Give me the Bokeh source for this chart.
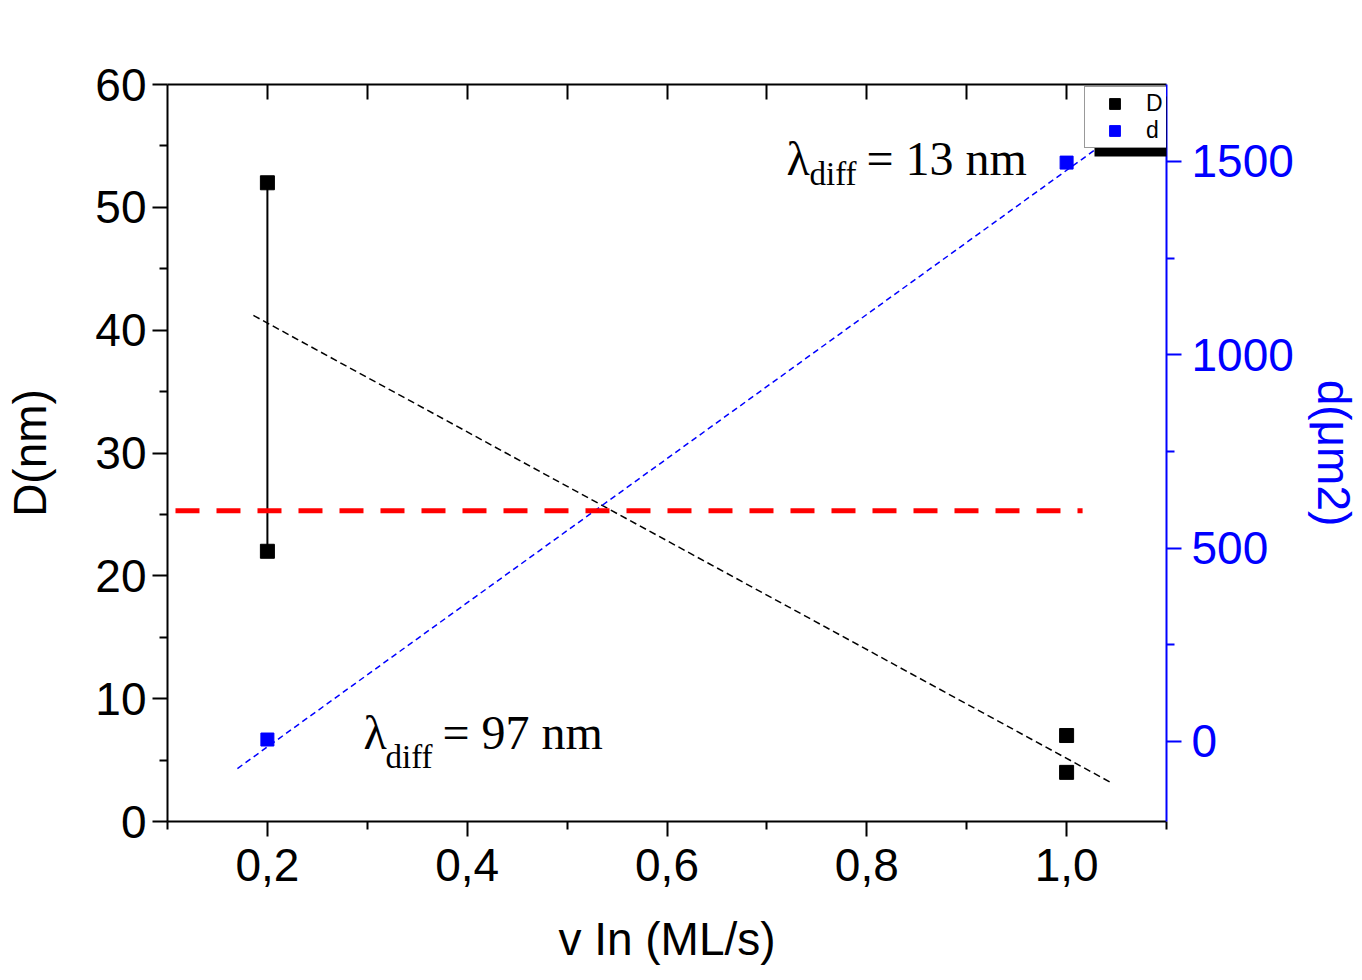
from bokeh.plotting import figure
from bokeh.models import (Range1d, LinearAxis, FixedTicker, CustomJSTickFormatter, Label,
                          Legend, LegendItem, BoxAnnotation)
from bokeh.embed import file_html
from bokeh.resources import INLINE

# ---------------- data ----------------
v_in = [0.2, 0.2, 1.0, 1.0]            # ML/s
D_nm = [52, 22, 7, 4]                  # D (nm)
d_x = [0.2, 1.0]
d_um2 = [5, 1497]                      # d
D_span_x = [0.2]
D_span_low = [22]
D_span_high = [52]
D_fit_x = [0.186, 1.046]
D_fit_y = [41.2, 3.1]
d_fit_x = [0.17, 1.03]
d_fit_y = [-70, 1533]
ref_x = [0.108, 1.016]
ref_D = [25.3, 25.3]

x_ticks = [0.2, 0.4, 0.6, 0.8, 1.0]
x_minor = [0.1, 0.3, 0.5, 0.7, 0.9, 1.1]
top_ticks = [0.2, 0.3, 0.4, 0.5, 0.6, 0.7, 0.8, 0.9, 1.0]
D_ticks = [0, 10, 20, 30, 40, 50, 60]
D_minor = [5, 15, 25, 35, 45, 55]
d_ticks = [0, 500, 1000, 1500]
d_minor = [250, 750, 1250]

x_title = "v In (ML/s)"
yl_title = "D(nm)"
yr_title = "d(μm2)"
ann_top = "= 13 nm"
ann_bot = "= 97 nm"

FONT = "Liberation Sans"
SERIF = "Liberation Serif"
W, H = 1362, 980

p = figure(width=W, height=H, output_backend="svg", toolbar_location=None,
           x_range=Range1d(0.1, 1.1), y_range=Range1d(0, 60),
           x_axis_location=None, y_axis_location=None,
           min_border_left=167, min_border_right=195, min_border_top=84, min_border_bottom=159)
p.extra_y_ranges = {"d": Range1d(-207, 1699)}
p.outline_line_color = None
p.background_fill_color = "white"
p.border_fill_color = "white"
p.xgrid.visible = False
p.ygrid.visible = False


def style(ax, color):
    ax.axis_line_color = color
    ax.axis_line_width = 2
    ax.major_tick_line_color = color
    ax.major_tick_line_width = 2
    ax.minor_tick_line_color = color
    ax.minor_tick_line_width = 2
    ax.major_tick_in = 0
    ax.major_tick_out = 15
    ax.minor_tick_in = 0
    ax.minor_tick_out = 8
    ax.major_label_text_font = FONT
    ax.major_label_text_font_size = "46px"
    ax.major_label_text_color = color
    ax.major_label_standoff = 6
    ax.axis_label_text_font = FONT
    ax.axis_label_text_font_size = "46px"
    ax.axis_label_text_font_style = "normal"
    ax.axis_label_text_color = color


xb = LinearAxis(ticker=FixedTicker(ticks=x_ticks, minor_ticks=x_minor),
                formatter=CustomJSTickFormatter(code="return tick.toFixed(1).replace('.', ',');"),
                axis_label=x_title)
style(xb, "black")
xb.major_label_standoff = 12
xb.axis_label_standoff = 29
p.add_layout(xb, "below")

yl = LinearAxis(ticker=FixedTicker(ticks=D_ticks, minor_ticks=D_minor), axis_label=yl_title)
style(yl, "black")
yl.axis_label_standoff = 36
p.add_layout(yl, "left")

yr = LinearAxis(y_range_name="d", ticker=FixedTicker(ticks=d_ticks, minor_ticks=d_minor),
                axis_label=yr_title)
style(yr, "blue")
yr.major_label_standoff = 10
yr.axis_label_standoff = 11
p.add_layout(yr, "right")

xt = LinearAxis(ticker=FixedTicker(ticks=top_ticks, minor_ticks=[]),
                formatter=CustomJSTickFormatter(code="return '';"))
style(xt, "black")
xt.major_tick_in = 15
xt.major_tick_out = 0
xt.major_label_standoff = 0
xt.major_label_text_font_size = "1px"
p.add_layout(xt, "above")

# ---------------- data glyphs ----------------
p.segment(x0=D_span_x, y0=D_span_low, x1=D_span_x, y1=D_span_high, line_color="black", line_width=2)
p.line(D_fit_x, D_fit_y, line_color="black", line_width=1.5, line_dash="7 4")
p.line(d_fit_x, d_fit_y, y_range_name="d", line_color="blue", line_width=1.5, line_dash="6 4")
p.line(ref_x, ref_D, line_color="red", line_width=5, line_dash="24 17")
rD = p.scatter(v_in, D_nm, marker="square", size=14, color="black")
rd = p.scatter(d_x, d_um2, y_range_name="d", marker="square", size=13, color="blue")
sw_line = p.line(x=[], y=[], line_color="blue", line_width=1.5)   # legend swatch only

# lambda annotations (inside the frame)
def lam(x0, yc, xs, ysub, xe, rest):
    kw = dict(x_units="canvas", y_units="canvas", text_font=SERIF,
              text_baseline="middle", text_color="black")
    p.add_layout(Label(x=x0, y=yc, text="λ", text_font_size="48px", **kw))
    p.add_layout(Label(x=xs, y=ysub, text="diff", text_font_size="33px", **kw))
    p.add_layout(Label(x=xe, y=yc, text=rest, text_font_size="48px", **kw))


lam(786, 158, 809, 173, 866, ann_top)
lam(363, 732, 385, 756, 442, ann_bot)

# legend with its drop shadow, tucked into the top-right corner of the frame
p.add_layout(BoxAnnotation(left=1094, right=1175, top=96, bottom=156,
                           left_units="canvas", right_units="canvas",
                           top_units="canvas", bottom_units="canvas",
                           fill_color="black", fill_alpha=1, line_color=None))
legend = Legend(items=[LegendItem(label="D", renderers=[rD]),
                       LegendItem(label="d", renderers=[sw_line, rd])],
                location=(917, 673), orientation="vertical",
                glyph_width=53, glyph_height=27, label_height=27, label_width=16,
                label_standoff=5, spacing=0, padding=3, margin=0,
                label_text_font=FONT, label_text_font_size="23px", label_text_color="black",
                border_line_color="#333333", border_line_width=1,
                background_fill_color="white", background_fill_alpha=1)
p.add_layout(legend, "center")

open("out.html", "w").write(file_html(p, INLINE))
